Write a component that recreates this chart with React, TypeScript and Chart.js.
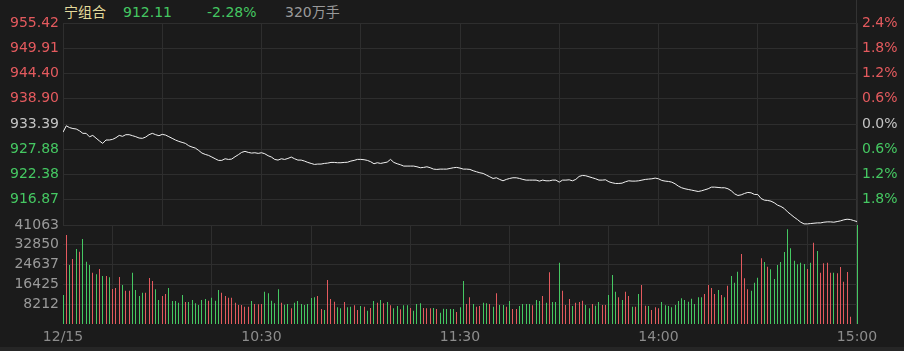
import React, { useEffect, useRef } from "react";
import { Chart, registerables } from "chart.js";
Chart.register(...registerables);

// ---------- data ----------
const headerName = "宁组合";
const headerPrice = "912.11";
const headerChange = "-2.28%";
const headerVolume = "320万手";

const basePrice = 933.39;
const priceTicks = [955.42, 949.91, 944.40, 938.90, 933.39, 927.88, 922.38, 916.87];
const pctLabels = ["2.4%", "1.8%", "1.2%", "0.6%", "0.0%", "0.6%", "1.2%", "1.8%"];
const priceMin = 911.36;
const priceMax = 955.42;

const volTicks = [8212.6, 16425.2, 24637.8, 32850.4, 41063];
const volTickLabels = ["8212", "16425", "24637", "32850", "41063"];
const volMax = 41063;

const gridIdx = [0, 30, 60, 90, 120, 150, 180, 210, 240];
const xLabelIdx = [0, 60, 120, 180, 240];
const xLabels = ["12/15", "10:30", "11:30", "14:00", "15:00"];

const prices = [
  931.60, 933.00, 932.60, 932.40, 932.30, 931.90, 931.35, 931.35, 930.60, 930.90,
  930.30, 929.70, 929.16, 929.90, 929.90, 930.04, 930.40, 930.90, 930.70, 931.06,
  931.06, 930.84, 930.62, 930.33, 930.26, 930.55, 931.06, 931.35, 931.06, 930.84,
  931.13, 930.98, 930.62, 930.26, 929.89, 929.60, 929.38, 929.16, 928.65, 928.36,
  928.14, 927.63, 927.05, 926.76, 926.54, 926.18, 925.81, 925.45, 925.45, 925.81,
  925.66, 925.74, 926.25, 926.69, 927.20, 927.42, 927.20, 927.05, 927.12, 926.98,
  927.12, 926.90, 926.47, 926.18, 925.66, 925.52, 925.81, 925.66, 925.88, 926.18,
  925.81, 925.52, 925.52, 925.30, 925.01, 924.79, 924.57, 924.65, 924.65, 924.79,
  924.86, 925.01, 925.01, 924.94, 924.94, 925.01, 925.05, 925.30, 925.45, 925.67,
  925.67, 925.60, 925.45, 925.16, 924.72, 924.94, 924.79, 924.94, 925.08, 925.67,
  925.01, 924.72, 924.50, 924.21, 924.21, 924.21, 924.21, 924.06, 923.85, 923.92,
  924.06, 923.85, 923.55, 923.48, 923.55, 923.55, 923.55, 923.70, 923.85, 923.92,
  923.77, 923.55, 923.55, 923.48, 923.19, 922.97, 922.75, 922.61, 922.24, 921.88,
  921.51, 921.66, 921.30, 921.00, 921.30, 921.51, 921.66, 921.66, 921.51, 921.30,
  921.15, 921.15, 921.15, 921.15, 920.93, 921.15, 921.00, 921.00, 921.15, 921.15,
  920.71, 921.15, 921.15, 921.22, 921.00, 921.30, 921.95, 922.17, 922.10, 921.88,
  921.66, 921.44, 921.15, 921.15, 921.22, 920.79, 920.57, 920.42, 920.42, 920.49,
  920.79, 921.00, 920.93, 920.93, 921.00, 921.15, 921.30, 921.37, 921.44, 921.59,
  921.44, 921.08, 920.93, 920.86, 920.71, 920.35, 919.84, 919.48, 919.26, 919.11,
  918.97, 918.82, 918.67, 918.82, 919.04, 919.26, 919.62, 919.62, 919.55, 919.48,
  919.48, 919.26, 918.82, 918.16, 917.80, 917.94, 918.24, 918.46, 918.38, 918.02,
  918.02, 917.14, 916.78, 916.71, 916.56, 916.20, 915.69, 915.40, 914.96, 914.23,
  913.65, 913.06, 912.55, 911.97, 911.60, 911.60, 911.68, 911.75, 911.82, 911.82,
  911.97, 912.04, 912.04, 911.97, 912.11, 912.26, 912.48, 912.62, 912.55, 912.33,
  912.11,
];

const volumes = [
  12030, 36930, 24480, 26970, 31120, 30010, 35270, 25860, 24480, 21300,
  20610, 22820, 19920, 19920, 19360, 14520, 14940, 19500, 16180, 13830,
  13830, 21300, 14110, 11620, 13000, 13000, 19090, 17840, 14380, 9960,
  11620, 12450, 14940, 9540, 9540, 8850, 12030, 9130, 9130, 9960,
  8570, 7880, 9960, 10370, 9680, 10930, 9680, 14110, 13000, 11620,
  10930, 10930, 8850, 7880, 7880, 7190, 7190, 9540, 8300, 8160,
  8300, 13410, 12720, 9680, 8570, 14380, 8850, 8020, 8300, 6500,
  8850, 9540, 8300, 7880, 8300, 10790, 11060, 11620, 6220, 5810,
  18260, 10370, 9270, 6910, 6500, 9130, 6910, 7190, 7740, 5810,
  7470, 7190, 5530, 6640, 9540, 8850, 9960, 8570, 9130, 7740,
  6500, 7470, 6090, 7740, 7740, 6640, 5530, 8300, 8570, 6640,
  6500, 6500, 6640, 6220, 4700, 6360, 6220, 6220, 6220, 4980,
  6910, 17840, 8300, 11060, 8300, 7190, 7470, 8850, 8570, 8300,
  7190, 12720, 7880, 7880, 7190, 9540, 6220, 6220, 7470, 8300,
  8300, 8300, 7740, 9960, 9540, 11620, 8850, 21440, 9130, 9130,
  25450, 13830, 7880, 10370, 7470, 8850, 9130, 9680, 7880, 6500,
  8300, 7610, 9130, 7880, 7880, 12030, 20330, 13410, 11060, 9960,
  13410, 11620, 7190, 7190, 12450, 16180, 7600, 7470, 5810, 6910,
  6500, 9130, 7740, 7470, 6910, 7880, 9540, 10650, 9960, 9270,
  10510, 8300, 11060, 11060, 12450, 16180, 14940, 12450, 14110, 12030,
  11060, 15900, 19920, 17150, 21710, 29040, 18950, 14380, 13830, 17150,
  19220, 27240, 25720, 23790, 22680, 18670, 24480, 25720, 29870, 39280,
  31390, 26280, 24760, 25450, 24890, 22820, 25450, 33740, 30290, 21300,
  25170, 25450, 21300, 21300, 21020, 23650, 17560, 21570, 3040, 0,
  41063,
];

// 1 = up (red), 0 = down (green)
const volUp = [
  0, 1, 0, 1, 0, 1, 0, 0, 0, 1,
  0, 1, 0, 1, 0, 1, 1, 1, 0, 1,
  1, 0, 0, 0, 0, 1, 1, 1, 0, 0,
  1, 1, 0, 0, 0, 0, 0, 1, 0, 0,
  0, 0, 0, 0, 1, 0, 0, 0, 1, 1,
  1, 1, 1, 1, 1, 1, 1, 0, 1, 1,
  1, 0, 0, 0, 0, 0, 1, 0, 0, 1,
  0, 0, 0, 0, 0, 0, 0, 1, 1, 0,
  1, 1, 1, 0, 0, 1, 0, 0, 1, 1,
  0, 1, 0, 1, 0, 1, 0, 1, 0, 1,
  0, 0, 1, 0, 0, 1, 0, 0, 0, 1,
  1, 1, 0, 1, 0, 0, 0, 0, 0, 1,
  0, 0, 1, 1, 0, 1, 1, 0, 0, 1,
  0, 1, 0, 0, 1, 0, 1, 1, 0, 0,
  0, 0, 1, 0, 0, 1, 0, 1, 0, 0,
  0, 1, 1, 1, 0, 1, 1, 1, 0, 0,
  1, 0, 0, 1, 1, 0, 0, 0, 1, 0,
  1, 1, 0, 1, 0, 1, 1, 0, 1, 1,
  1, 0, 0, 0, 0, 0, 0, 0, 0, 0,
  0, 0, 0, 0, 1, 1, 1, 1, 0, 1,
  0, 1, 0, 0, 0, 1, 1, 1, 0, 0,
  0, 1, 0, 1, 0, 0, 0, 0, 0, 0,
  0, 0, 0, 0, 0, 1, 0, 1, 0, 1,
  1, 1, 1, 0, 1, 1, 1, 1, 1, 0,
  0,
];

// ---------- styles ----------
const BG = "#1b1b1b";
const GRID = "#2e2e2e";
const RED = "#e45a5e";
const GREEN = "#45c862";
const GREY = "#c4c4c4";
const AXIS_GREY = "#9a9a9a";
const FONT = '"DejaVu Sans", "Noto Sans CJK SC", sans-serif';

const priceColor = (v: number) =>
  Math.abs(v - basePrice) < 0.01 ? GREY : v > basePrice ? RED : GREEN;

const noPad = (s: any) => {
  s.paddingTop = 0;
  s.paddingBottom = 0;
  s.paddingLeft = 0;
  s.paddingRight = 0;
};

// snap 1px bars onto whole pixel columns so they stay crisp
const snapBars = {
  id: "snapBars",
  beforeDatasetsDraw(chart: any) {
    const meta = chart.getDatasetMeta(0);
    meta.data.forEach((el: any) => {
      el.x = Math.floor(el.x) + 0.5;
    });
  },
};

export default function App() {
  const priceRef = useRef<HTMLCanvasElement>(null);
  const volRef = useRef<HTMLCanvasElement>(null);

  useEffect(() => {
    const gridTicks = (s: any) => {
      s.ticks = gridIdx.map((v) => ({ value: v }));
    };

    const priceChart = new Chart(priceRef.current!, {
      type: "line",
      data: {
        datasets: [
          {
            data: prices.map((p, i) => ({ x: i, y: p })),
            borderColor: "#f2f2f2",
            borderWidth: 1,
            pointRadius: 0,
            tension: 0,
          },
        ],
      },
      options: {
        animation: false,
        responsive: false,
        maintainAspectRatio: false,
        layout: { padding: { top: 23, bottom: 1, left: 0, right: 0 } },
        plugins: { legend: { display: false }, tooltip: { enabled: false } },
        scales: {
          x: {
            type: "linear",
            min: 0,
            max: 240,
            afterBuildTicks: gridTicks,
            afterFit: (s: any) => {
              s.height = 0;
              noPad(s);
            },
            ticks: { display: false },
            grid: { color: GRID, drawTicks: false },
            border: { display: false },
          },
          y: {
            position: "left",
            min: priceMin,
            max: priceMax,
            afterBuildTicks: (s: any) => {
              s.ticks = priceTicks.map((v) => ({ value: v }));
            },
            afterFit: (s: any) => {
              s.width = 63;
              noPad(s);
            },
            ticks: {
              padding: 4,
              font: { family: FONT, size: 14 },
              color: (ctx: any) => priceColor(ctx.tick.value),
              callback: (v: any) => Number(v).toFixed(2),
            },
            grid: { color: GRID, drawTicks: false },
            border: { display: false },
          },
          y2: {
            position: "right",
            min: priceMin,
            max: priceMax,
            afterBuildTicks: (s: any) => {
              s.ticks = priceTicks.map((v) => ({ value: v }));
            },
            afterFit: (s: any) => {
              s.width = 47;
              noPad(s);
            },
            ticks: {
              padding: 5,
              font: { family: FONT, size: 14 },
              color: (ctx: any) => priceColor(ctx.tick.value),
              callback: (_v: any, i: number) => pctLabels[i],
            },
            grid: { display: false, drawTicks: false },
            border: { display: false },
          },
        },
      },
    } as any);

    const volChart = new Chart(volRef.current!, {
      type: "bar",
      data: {
        datasets: [
          {
            data: volumes.map((v, i) => ({ x: i, y: v })),
            backgroundColor: volUp.map((u) => (u ? RED : GREEN)),
            barThickness: 1,
            inflateAmount: 0,
            borderWidth: 0,
            clip: false,
          } as any,
        ],
      },
      plugins: [snapBars],
      options: {
        animation: false,
        responsive: false,
        maintainAspectRatio: false,
        layout: { padding: { top: 25, bottom: 0, left: 0, right: 47 } },
        plugins: { legend: { display: false }, tooltip: { enabled: false } },
        scales: {
          x: {
            type: "linear",
            min: 0,
            max: 240,
            offset: false,
            afterBuildTicks: gridTicks,
            afterFit: (s: any) => {
              s.height = 27;
              noPad(s);
            },
            ticks: {
              autoSkip: false,
              maxRotation: 0,
              padding: 5,
              color: "#8c8c8c",
              font: { family: FONT, size: 14 },
              callback: (v: any) => {
                const k = xLabelIdx.indexOf(Number(v));
                return k >= 0 ? xLabels[k] : "";
              },
            },
            grid: { color: GRID, drawTicks: false },
            border: { display: false },
          },
          y: {
            position: "left",
            min: 0,
            max: volMax,
            afterBuildTicks: (s: any) => {
              s.ticks = volTicks.map((v) => ({ value: v }));
            },
            afterFit: (s: any) => {
              s.width = 63;
              noPad(s);
            },
            ticks: {
              padding: 4,
              color: AXIS_GREY,
              font: { family: FONT, size: 14 },
              callback: (_v: any, i: number) => volTickLabels[i],
            },
            grid: { color: GRID, drawTicks: false },
            border: { display: false },
          },
        },
      },
    } as any);

    return () => {
      priceChart.destroy();
      volChart.destroy();
    };
  }, []);

  const hdr = (left: number, color: string, text: string) => (
    <span
      style={{
        position: "absolute",
        left,
        top: 3,
        lineHeight: "18px",
        fontSize: 14,
        fontFamily: FONT,
        color,
        whiteSpace: "nowrap",
      }}
    >
      {text}
    </span>
  );

  return (
    <div
      style={{
        position: "fixed",
        left: 0,
        top: 0,
        width: 904,
        height: 351,
        background: BG,
        overflow: "hidden",
      }}
    >
      {hdr(64, "#e6dc9c", headerName)}
      {hdr(123, GREEN, headerPrice)}
      {hdr(207, GREEN, headerChange)}
      {hdr(285, AXIS_GREY, headerVolume)}
      <div
        style={{
          position: "absolute",
          left: 856,
          top: 0,
          width: 1,
          height: 324,
          background: "#333333",
        }}
      />
      <canvas
        ref={priceRef}
        width={904}
        height={226}
        style={{ position: "absolute", left: 0, top: 0, width: 904, height: 226 }}
      />
      <canvas
        ref={volRef}
        width={904}
        height={151}
        style={{ position: "absolute", left: 0, top: 200, width: 904, height: 151 }}
      />
      <div
        style={{
          position: "absolute",
          left: 0,
          top: 347,
          width: 904,
          height: 4,
          background: "#262626",
        }}
      />
    </div>
  );
}
